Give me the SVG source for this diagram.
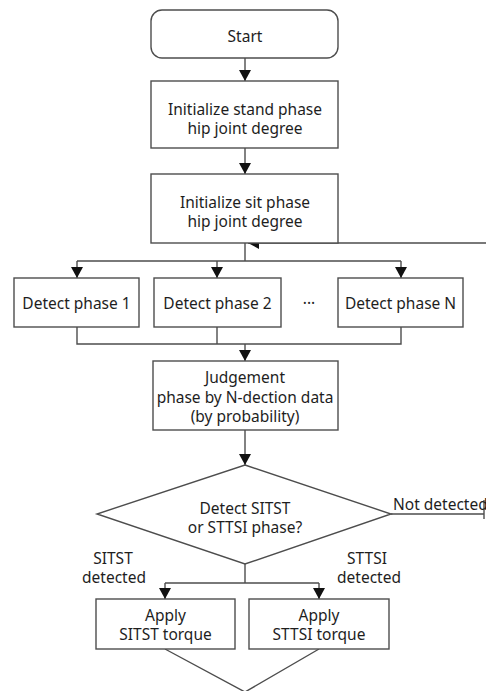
<svg xmlns="http://www.w3.org/2000/svg" width="486" height="691" viewBox="0 0 486 691">
  <style>
    .box { fill: #ffffff; stroke: #4d4d4d; stroke-width: 1.4; }
    .wire { fill: none; stroke: #4d4d4d; stroke-width: 1.4; }
    .lbl { font-family: "Noto Sans", "Open Sans", sans-serif; font-size: 15.5px; fill: #1e1e1e; text-anchor: middle; }
    .lbl-start { text-anchor: start; }
  </style>
  <defs>
    <marker id="arrow" markerUnits="userSpaceOnUse" markerWidth="11" markerHeight="12" viewBox="0 0 11 12" refX="11" refY="6" orient="auto">
      <path d="M0,0 L11,6 L0,12 Z" fill="#111111"/>
    </marker>
  </defs>

  <rect width="486" height="691" fill="#ffffff"/>

  <!-- connectors -->
  <g id="connectors">
    <line class="wire" x1="245" y1="58" x2="245" y2="81" marker-end="url(#arrow)"/>
    <line class="wire" x1="245" y1="148" x2="245" y2="174" marker-end="url(#arrow)"/>
    <!-- fan-out to detectors -->
    <line class="wire" x1="245" y1="243" x2="245" y2="261"/>
    <line class="wire" x1="77" y1="261" x2="401" y2="261"/>
    <line class="wire" x1="77" y1="261" x2="77" y2="278" marker-end="url(#arrow)"/>
    <line class="wire" x1="217" y1="261" x2="217" y2="278" marker-end="url(#arrow)"/>
    <line class="wire" x1="401" y1="261" x2="401" y2="278" marker-end="url(#arrow)"/>
    <!-- fan-in to judgement -->
    <polyline class="wire" points="77,327 77,344 401,344 401,327"/>
    <line class="wire" x1="217" y1="327" x2="217" y2="344"/>
    <line class="wire" x1="245" y1="344" x2="245" y2="361" marker-end="url(#arrow)"/>
    <line class="wire" x1="245" y1="430" x2="245" y2="465" marker-end="url(#arrow)"/>
    <!-- not detected loop back -->
    <line class="wire" x1="391" y1="514" x2="484" y2="514"/>
    <line class="wire" x1="484" y1="500" x2="484" y2="519"/>
    <line class="wire" x1="486" y1="243" x2="248" y2="243" marker-end="url(#arrow)"/>
    <!-- detected branches -->
    <line class="wire" x1="245" y1="564" x2="245" y2="583"/>
    <line class="wire" x1="165" y1="583" x2="319" y2="583"/>
    <line class="wire" x1="165" y1="583" x2="165" y2="599" marker-end="url(#arrow)"/>
    <line class="wire" x1="319" y1="583" x2="319" y2="599" marker-end="url(#arrow)"/>
    <!-- merge below torque blocks -->
    <polyline class="wire" points="165,649 245,692 319,649"/>
  </g>

  <g id="start">
    <rect class="box" x="151" y="10" width="187" height="48" rx="11" ry="11"/>
    <text class="lbl" x="245" y="42">Start</text>
  </g>

  <g id="init-stand">
    <rect class="box" x="151" y="81" width="187" height="67"/>
    <text class="lbl" x="245" y="114.5">Initialize stand phase</text>
    <text class="lbl" x="245" y="133.5">hip joint degree</text>
  </g>

  <g id="init-sit">
    <rect class="box" x="151" y="174" width="187" height="69"/>
    <text class="lbl" x="245" y="207.5">Initialize sit phase</text>
    <text class="lbl" x="245" y="226.5">hip joint degree</text>
  </g>

  <g id="detect-1">
    <rect class="box" x="14" y="278" width="125" height="49"/>
    <text class="lbl" x="76.5" y="308.5">Detect phase 1</text>
  </g>

  <g id="detect-2">
    <rect class="box" x="154" y="278" width="127" height="49"/>
    <text class="lbl" x="217.5" y="308.5">Detect phase 2</text>
  </g>

  <g id="ellipsis">
    <text class="lbl" x="309" y="308.5">···</text>
  </g>

  <g id="detect-n">
    <rect class="box" x="338" y="278" width="125" height="49"/>
    <text class="lbl" x="400.5" y="308.5">Detect phase N</text>
  </g>

  <g id="judgement">
    <rect class="box" x="153" y="361" width="185" height="69"/>
    <text class="lbl" x="245" y="383">Judgement</text>
    <text class="lbl" x="245" y="402.5">phase by N-dection data</text>
    <text class="lbl" x="245" y="421.5">(by probability)</text>
  </g>

  <g id="decision">
    <polygon class="box" points="245,465 391,514 245,564 97,514"/>
    <text class="lbl" x="245" y="514">Detect SITST</text>
    <text class="lbl" x="245" y="533">or STTSI phase?</text>
  </g>

  <g id="edge-labels">
    <text class="lbl lbl-start" x="393" y="510">Not detected</text>
    <text class="lbl" x="113" y="564">SITST</text>
    <text class="lbl" x="114" y="583">detected</text>
    <text class="lbl" x="367" y="564">STTSI</text>
    <text class="lbl" x="369" y="583">detected</text>
  </g>

  <g id="apply-sitst">
    <rect class="box" x="96" y="599" width="139" height="50"/>
    <text class="lbl" x="165.5" y="621">Apply</text>
    <text class="lbl" x="165.5" y="640">SITST torque</text>
  </g>

  <g id="apply-sttsi">
    <rect class="box" x="249" y="599" width="140" height="50"/>
    <text class="lbl" x="319" y="621">Apply</text>
    <text class="lbl" x="319" y="640">STTSI torque</text>
  </g>
</svg>
